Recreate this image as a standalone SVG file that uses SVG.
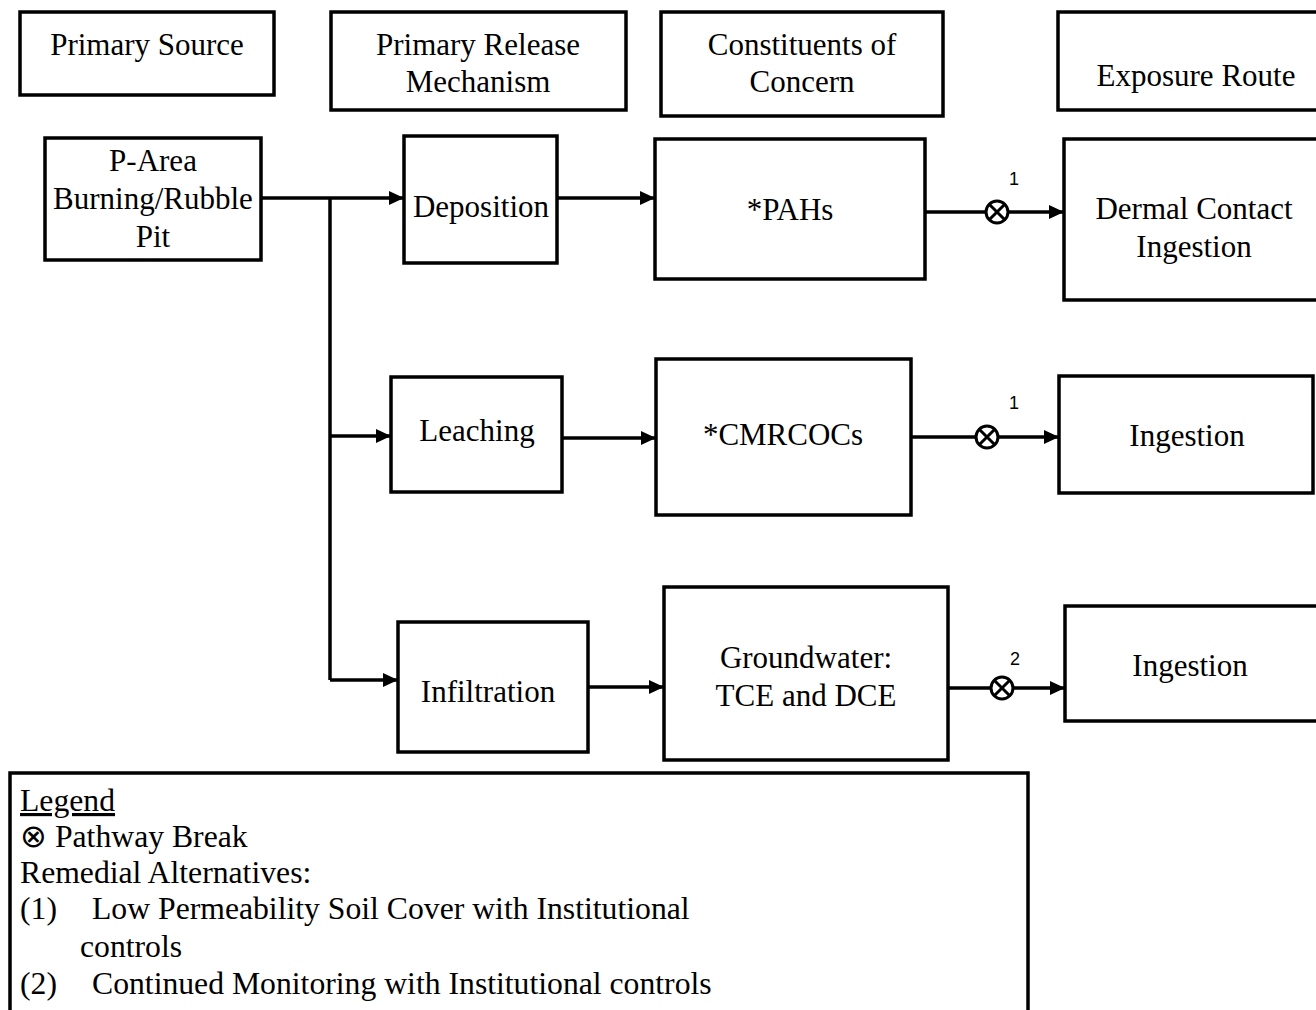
<svg xmlns="http://www.w3.org/2000/svg" width="1316" height="1010" viewBox="0 0 1316 1010">
<style>
.box{fill:#fff;stroke:#000;stroke-width:3.5}
.t{font-family:"Liberation Serif","Times New Roman",serif;font-size:31px;fill:#000;text-anchor:middle}
.lt{font-family:"Liberation Serif","Times New Roman",serif;font-size:31.7px;fill:#000}
.n{font-family:"Liberation Sans",Arial,sans-serif;font-size:18px;fill:#000;text-anchor:middle}
.c{fill:none;stroke:#000;stroke-width:3.5}
.brk{fill:#fff;stroke:#000;stroke-width:3}
</style>
<defs>
<marker id="ah" markerUnits="userSpaceOnUse" markerWidth="16" markerHeight="16" viewBox="0 0 16 16" refX="15" refY="8" orient="auto">
<path d="M0,1 L15,8 L0,15 Z" fill="#000"/>
</marker>
</defs>
<rect width="1316" height="1010" fill="#fff"/>

<g id="hdr-source"><rect class="box" x="20" y="12" width="254" height="83"/><text class="t" x="147" y="55">Primary Source</text></g>
<g id="hdr-release"><rect class="box" x="331" y="12" width="295" height="98"/><text class="t" x="478" y="55">Primary Release</text><text class="t" x="478" y="92">Mechanism</text></g>
<g id="hdr-coc"><rect class="box" x="661" y="12" width="282" height="104"/><text class="t" x="802" y="55">Constituents of</text><text class="t" x="802" y="92">Concern</text></g>
<g id="hdr-exposure"><rect class="box" x="1058" y="12" width="270" height="98"/><text class="t" x="1196" y="86">Exposure Route</text></g>

<g id="n-parea"><rect class="box" x="45" y="138" width="216" height="122"/><text class="t" x="153" y="171">P-Area</text><text class="t" x="153" y="209">Burning/Rubble</text><text class="t" x="153" y="247">Pit</text></g>
<g id="n-deposition"><rect class="box" x="404" y="136" width="153" height="127"/><text class="t" x="481" y="217">Deposition</text></g>
<g id="n-pahs"><rect class="box" x="655" y="139" width="270" height="140"/><text class="t" x="790" y="220">*PAHs</text></g>
<g id="n-dermal"><rect class="box" x="1064" y="139" width="264" height="161"/><text class="t" x="1194" y="219">Dermal Contact</text><text class="t" x="1194" y="257">Ingestion</text></g>

<g id="n-leaching"><rect class="box" x="391" y="377" width="171" height="115"/><text class="t" x="477" y="441">Leaching</text></g>
<g id="n-cmrcocs"><rect class="box" x="656" y="359" width="255" height="156"/><text class="t" x="783" y="445">*CMRCOCs</text></g>
<g id="n-ingestion2"><rect class="box" x="1059" y="376" width="254" height="117"/><text class="t" x="1187" y="446">Ingestion</text></g>

<g id="n-infiltration"><rect class="box" x="398" y="622" width="190" height="130"/><text class="t" x="488" y="702">Infiltration</text></g>
<g id="n-groundwater"><rect class="box" x="664" y="587" width="284" height="173"/><text class="t" x="806" y="668">Groundwater:</text><text class="t" x="806" y="706">TCE and DCE</text></g>
<g id="n-ingestion3"><rect class="box" x="1065" y="606" width="263" height="115"/><text class="t" x="1190" y="676">Ingestion</text></g>

<g id="connectors">
<path class="c" d="M261,198 H404" marker-end="url(#ah)"/>
<path class="c" d="M330,198 V680"/>
<path class="c" d="M330,436 H391" marker-end="url(#ah)"/>
<path class="c" d="M330,680 H398" marker-end="url(#ah)"/>
<path class="c" d="M557,198 H655" marker-end="url(#ah)"/>
<path class="c" d="M562,438 H656" marker-end="url(#ah)"/>
<path class="c" d="M588,687 H664" marker-end="url(#ah)"/>
<path class="c" d="M925,212 H986"/>
<path class="c" d="M1008,212 H1064" marker-end="url(#ah)"/>
<path class="c" d="M911,437 H976"/>
<path class="c" d="M998,437 H1059" marker-end="url(#ah)"/>
<path class="c" d="M948,688 H991"/>
<path class="c" d="M1013,688 H1065" marker-end="url(#ah)"/>
<g id="break1"><circle class="brk" cx="997" cy="212" r="11"/><path class="brk" d="M989.2,204.2 L1004.8,219.8 M1004.8,204.2 L989.2,219.8"/></g>
<g id="break2"><circle class="brk" cx="987" cy="437" r="11"/><path class="brk" d="M979.2,429.2 L994.8,444.8 M994.8,429.2 L979.2,444.8"/></g>
<g id="break3"><circle class="brk" cx="1002" cy="688" r="11"/><path class="brk" d="M994.2,680.2 L1009.8,695.8 M1009.8,680.2 L994.2,695.8"/></g>
<text class="n" x="1014" y="185">1</text>
<text class="n" x="1014" y="409">1</text>
<text class="n" x="1015" y="665">2</text>
</g>

<g id="legend">
<rect class="box" x="10" y="773" width="1018" height="250"/>
<text class="lt" x="20" y="811" text-decoration="underline">Legend</text>
<text class="lt" x="20" y="847">⊗ Pathway Break</text>
<text class="lt" x="20" y="883">Remedial Alternatives:</text>
<text class="lt" x="20" y="919">(1)</text><text class="lt" x="92" y="919">Low Permeability Soil Cover with Institutional</text>
<text class="lt" x="80" y="957">controls</text>
<text class="lt" x="20" y="994">(2)</text><text class="lt" x="92" y="994">Continued Monitoring with Institutional controls</text>
</g>
</svg>
